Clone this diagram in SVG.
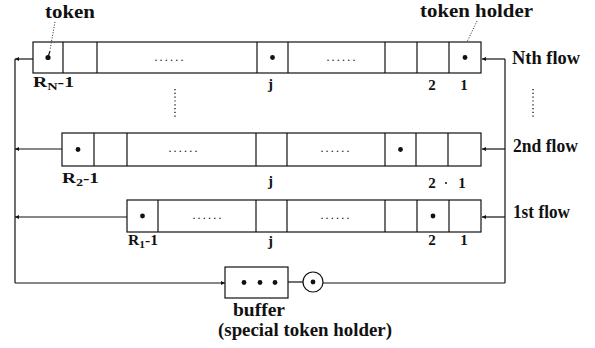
<svg xmlns="http://www.w3.org/2000/svg" width="595" height="348" viewBox="0 0 595 348">
  <style>
    .box { fill: #ffffff; stroke: #111111; stroke-width: 1.2; }
    .div { stroke: #111111; stroke-width: 1.2; }
    .ln { fill: none; stroke: #111111; stroke-width: 1.2; }
    .dots { fill: none; stroke: #111111; stroke-width: 1.3; stroke-dasharray: 1.2 2.6; }
    .lead { fill: none; stroke: #111111; stroke-width: 0.9; stroke-dasharray: 1 1.6; }
    .tok { fill: #111111; }
    .big { font-family: "Liberation Serif", "Times New Roman", serif; font-weight: bold; font-size: 18px; fill: #111111; }
    .num { font-family: "Liberation Serif", "Times New Roman", serif; font-weight: bold; font-size: 15px; fill: #111111; }
    .fill { font-family: "Liberation Serif", "Times New Roman", serif; font-size: 12px; letter-spacing: 2.2px; fill: #111111; text-anchor: middle; }
  </style>
  <defs>
    <marker id="arr" viewBox="0 0 6 6" refX="6" refY="3" markerWidth="4" markerHeight="4" markerUnits="userSpaceOnUse" orient="auto">
      <path d="M0,0 L6,3 L0,6 z" fill="#111111"/>
    </marker>
  </defs>
  <rect width="595" height="348" fill="#ffffff"/>

  <!-- connectors -->
  <g id="connectors">
    <!-- inputs from the right-hand feed line into each flow -->
    <line class="ln" x1="505" y1="59" x2="505" y2="283"/>
    <line class="ln" x1="505" y1="59" x2="482" y2="59" marker-end="url(#arr)"/>
    <line class="ln" x1="505" y1="149" x2="482" y2="149" marker-end="url(#arr)"/>
    <line class="ln" x1="505" y1="217" x2="482" y2="217" marker-end="url(#arr)"/>
    <!-- outputs on the left down to the buffer -->
    <line class="ln" x1="33" y1="59" x2="15" y2="59" marker-end="url(#arr)"/>
    <line class="ln" x1="62" y1="149" x2="15" y2="149" marker-end="url(#arr)"/>
    <line class="ln" x1="127" y1="217" x2="15" y2="217" marker-end="url(#arr)"/>
    <line class="ln" x1="15" y1="59" x2="15" y2="283"/>
    <line class="ln" x1="15" y1="283" x2="225" y2="283" marker-end="url(#arr)"/>
    <line class="ln" x1="288" y1="282" x2="303" y2="282"/>
    <line class="ln" x1="323" y1="283" x2="505" y2="283"/>
    <!-- vertical ellipses between the Nth and 2nd flows -->
    <line class="dots" x1="175" y1="89" x2="175" y2="119"/>
    <line class="dots" x1="533" y1="89" x2="533" y2="119"/>
  </g>

  <!-- Nth flow -->
  <g id="flowN">
    <rect class="box" x="33" y="42" width="448" height="31"/>
    <line class="div" x1="63" y1="42" x2="63" y2="73"/>
    <line class="div" x1="97" y1="42" x2="97" y2="73"/>
    <line class="div" x1="257" y1="42" x2="257" y2="73"/>
    <line class="div" x1="288" y1="42" x2="288" y2="73"/>
    <line class="div" x1="385" y1="42" x2="385" y2="73"/>
    <line class="div" x1="417" y1="42" x2="417" y2="73"/>
    <line class="div" x1="449" y1="42" x2="449" y2="73"/>
    <circle class="tok" cx="48" cy="57.5" r="2.6"/>
    <path class="ln" d="M48,57 L50,51" stroke-width="1.3"/>
    <circle class="tok" cx="272.5" cy="57.5" r="2.4"/>
    <circle class="tok" cx="465" cy="57.5" r="2.4"/>
    <text class="fill" x="170" y="61">......</text>
    <text class="fill" x="342" y="61">......</text>
    <text class="num" x="33" y="87" textLength="41" lengthAdjust="spacingAndGlyphs">R<tspan font-size="11" dy="3">N</tspan><tspan dy="-3">-1</tspan></text>
    <text class="num" x="268" y="89">j</text>
    <text class="num" x="432" y="90" text-anchor="middle">2</text>
    <text class="num" x="464" y="90" text-anchor="middle">1</text>
    <text class="big" x="512" y="64" textLength="68" lengthAdjust="spacingAndGlyphs">Nth flow</text>
  </g>

  <!-- 2nd flow -->
  <g id="flow2">
    <rect class="box" x="62" y="133" width="419" height="33"/>
    <line class="div" x1="94" y1="133" x2="94" y2="166"/>
    <line class="div" x1="127" y1="133" x2="127" y2="166"/>
    <line class="div" x1="256" y1="133" x2="256" y2="166"/>
    <line class="div" x1="287" y1="133" x2="287" y2="166"/>
    <line class="div" x1="385" y1="133" x2="385" y2="166"/>
    <line class="div" x1="416" y1="133" x2="416" y2="166"/>
    <line class="div" x1="448" y1="133" x2="448" y2="166"/>
    <circle class="tok" cx="78" cy="149.5" r="2.4"/>
    <circle class="tok" cx="400.5" cy="149.5" r="2.4"/>
    <text class="fill" x="184" y="152">......</text>
    <text class="fill" x="336" y="152">......</text>
    <text class="num" x="62" y="183" textLength="37" lengthAdjust="spacingAndGlyphs">R<tspan font-size="11" dy="3">2</tspan><tspan dy="-3">-1</tspan></text>
    <text class="num" x="268" y="186">j</text>
    <text class="num" x="432" y="188" text-anchor="middle">2</text>
    <circle class="tok" cx="446" cy="183" r="1"/>
    <text class="num" x="462" y="188" text-anchor="middle">1</text>
    <text class="big" x="513" y="152" textLength="65" lengthAdjust="spacingAndGlyphs">2nd flow</text>
  </g>

  <!-- 1st flow -->
  <g id="flow1">
    <rect class="box" x="127" y="200" width="354" height="32"/>
    <line class="div" x1="158" y1="200" x2="158" y2="232"/>
    <line class="div" x1="256" y1="200" x2="256" y2="232"/>
    <line class="div" x1="287" y1="200" x2="287" y2="232"/>
    <line class="div" x1="385" y1="200" x2="385" y2="232"/>
    <line class="div" x1="417" y1="200" x2="417" y2="232"/>
    <line class="div" x1="449" y1="200" x2="449" y2="232"/>
    <circle class="tok" cx="142.5" cy="216" r="2.4"/>
    <circle class="tok" cx="433" cy="216" r="2.4"/>
    <text class="fill" x="208" y="219">......</text>
    <text class="fill" x="336" y="219">......</text>
    <text class="num" x="128" y="245" textLength="30" lengthAdjust="spacingAndGlyphs">R<tspan font-size="11" dy="3">1</tspan><tspan dy="-3">-1</tspan></text>
    <text class="num" x="268" y="246">j</text>
    <text class="num" x="432" y="245" text-anchor="middle">2</text>
    <text class="num" x="464" y="245" text-anchor="middle">1</text>
    <text class="big" x="513" y="218" textLength="57" lengthAdjust="spacingAndGlyphs">1st flow</text>
  </g>

  <!-- buffer with the special token holder -->
  <g id="buffer">
    <rect class="box" x="225" y="267" width="63" height="31"/>
    <circle class="tok" cx="244" cy="282.5" r="2.4"/>
    <circle class="tok" cx="260" cy="282.5" r="2.4"/>
    <circle class="tok" cx="275" cy="282.5" r="2.4"/>
    <circle class="box" cx="313" cy="282" r="10"/>
    <circle class="tok" cx="313" cy="282" r="2.4"/>
    <text class="big" x="233" y="316" font-size="17" textLength="52" lengthAdjust="spacingAndGlyphs">buffer</text>
    <text class="big" x="218" y="336" font-size="17" textLength="174" lengthAdjust="spacingAndGlyphs">(special token holder)</text>
  </g>

  <!-- callouts -->
  <g id="callouts">
    <text class="big" x="45" y="18" textLength="50" lengthAdjust="spacingAndGlyphs">token</text>
    <line class="lead" x1="55" y1="22" x2="50" y2="50"/>
    <text class="big" x="420" y="17" textLength="113" lengthAdjust="spacingAndGlyphs">token holder</text>
    <line class="lead" x1="477" y1="21" x2="467" y2="42"/>
  </g>
</svg>
